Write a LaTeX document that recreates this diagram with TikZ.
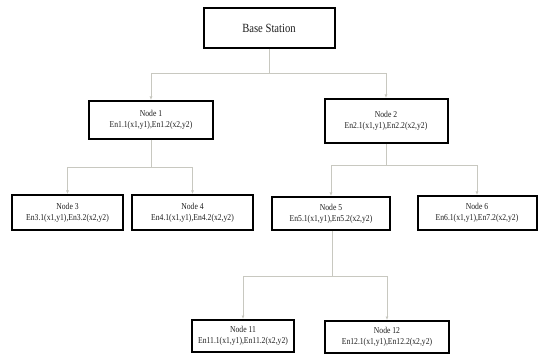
\documentclass[tikz,border=0pt]{standalone}
\usepackage{fontspec}
\setmainfont{Liberation Serif}[FakeStretch=0.85]
\usetikzlibrary{arrows.meta}
\definecolor{conncol}{RGB}{200,200,192}
\definecolor{txtcol}{RGB}{30,30,30}
\tikzset{
  box/.style={draw=black, line width=2pt, fill=white, inner sep=0pt, align=center,
    text=txtcol, font=\fontsize{9}{11}\selectfont},
  conn/.style={draw=conncol, line width=0.8pt},
  arr/.style={conn, -{Latex[length=3.5pt,width=3pt]}, conncol},
}
\begin{document}
\begin{tikzpicture}[x=1pt,y=-1pt]
\useasboundingbox (0,0) rectangle (538,355);
% nodes
\node[box, minimum width=131pt, minimum height=40pt, font=\fontsize{12.5}{14}\selectfont] (base) at (269,28) {Base Station};
\node[box, minimum width=124pt, minimum height=38pt] (n1) at (151,120) {Node 1\\En1.1(x1,y1),En1.2(x2,y2)};
\node[box, minimum width=123pt, minimum height=44pt] (n2) at (386,121) {Node 2\\En2.1(x1,y1),En2.2(x2,y2)};
\node[box, minimum width=111pt, minimum height=35pt] (n3) at (67.5,212.5) {Node 3\\En3.1(x1,y1),En3.2(x2,y2)};
\node[box, minimum width=121pt, minimum height=35pt] (n4) at (192.5,212.5) {Node 4\\En4.1(x1,y1),En4.2(x2,y2)};
\node[box, minimum width=118pt, minimum height=33pt] (n5) at (331,213.5) {Node 5\\En5.1(x1,y1),En5.2(x2,y2)};
\node[box, minimum width=119pt, minimum height=34pt] (n6) at (477,213) {Node 6\\En6.1(x1,y1),En7.2(x2,y2)};
\node[box, minimum width=102pt, minimum height=32pt] (n11) at (243,336) {Node 11\\En11.1(x1,y1),En11.2(x2,y2)};
\node[box, minimum width=124pt, minimum height=32pt] (n12) at (387,337) {Node 12\\En12.1(x1,y1),En12.2(x2,y2)};
% junctions
\coordinate (j0) at (269,73);
\coordinate (j1) at (151,167);
\coordinate (j2) at (386,165);
\coordinate (j5) at (332,276);
% connectors
\draw[conn] (base.south) -- (j0);
\draw[arr] (j0) -| (n1.north);
\draw[arr] (j0) -| (n2.north);
\draw[conn] (n1.south) -- (j1);
\draw[arr] (j1) -| (n3.north);
\draw[arr] (j1) -| (n4.north);
\draw[conn] (n2.south) -- (j2);
\draw[arr] (j2) -| (n5.north);
\draw[arr] (j2) -| (n6.north);
\draw[conn] (n5.south -| j5) -- (j5);
\draw[arr] (j5) -| (n11.north);
\draw[arr] (j5) -| (n12.north);
\end{tikzpicture}
\end{document}
